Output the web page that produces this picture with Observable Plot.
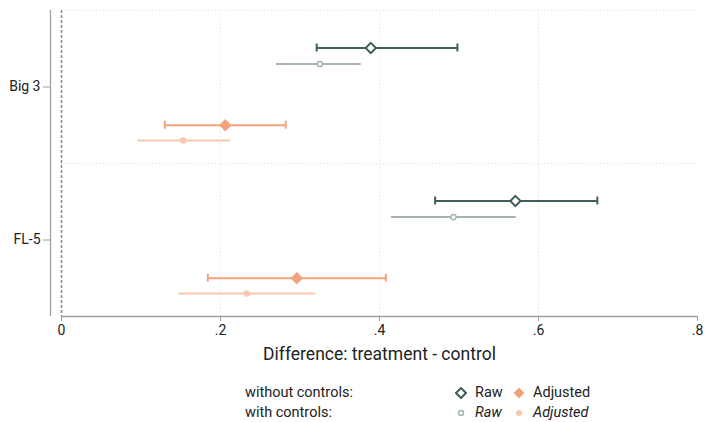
<!DOCTYPE html>
<html>
<head>
<meta charset="utf-8">
<script src="https://cdn.jsdelivr.net/npm/d3@7"></script>
<script src="https://cdn.jsdelivr.net/npm/@observablehq/plot@0.6"></script>
<style>
  html, body { margin: 0; padding: 0; background: #fff; }
  #wrap { position: relative; width: 706px; height: 422px; font-family: Roboto, "Open Sans", sans-serif; color: #222; }
  #legend { position: absolute; left: 245px; top: 383px; display: grid;
            grid-template-columns: 210px 20px 38px 20px auto; row-gap: 1px; font-size: 14.5px; line-height: 19px; }
  #legend svg { display: block; margin-top: 4px; }
  .it { font-style: italic; }
</style>
</head>
<body>
<div id="wrap">
  <div id="chart"></div>
  <div id="legend">
    <div>without controls:</div>
    <div><svg width="12" height="12"><path d="M6,1 L11,6 L6,11 L1,6 Z" fill="#fff" stroke="#3f5e5b" stroke-width="2"/></svg></div>
    <div>Raw</div>
    <div><svg width="12" height="12"><path d="M6,0.5 L11.5,6 L6,11.5 L0.5,6 Z" fill="#f4a27c"/></svg></div>
    <div>Adjusted</div>
    <div>with controls:</div>
    <div><svg width="12" height="12"><circle cx="6" cy="6" r="2.5" fill="#fff" stroke="#a7b5b2" stroke-width="1.5"/></svg></div>
    <div class="it">Raw</div>
    <div><svg width="12" height="12"><circle cx="6" cy="6" r="3" fill="#f9c8ad"/></svg></div>
    <div class="it">Adjusted</div>
  </div>
</div>
<script>
// ---- data ----
const categories = ["Big 3", "FL-5"];
const series = ["Raw", "Raw (controls)", "Adjusted", "Adjusted (controls)"];
const estRaw   = [0.389, 0.571];
const loRaw    = [0.321, 0.470];
const hiRaw    = [0.498, 0.674];
const estRawC  = [0.325, 0.493];
const loRawC   = [0.270, 0.415];
const hiRawC   = [0.377, 0.572];
const estAdj   = [0.206, 0.296];
const loAdj    = [0.130, 0.184];
const hiAdj    = [0.282, 0.408];
const estAdjC  = [0.153, 0.233];
const loAdjC   = [0.096, 0.148];
const hiAdjC   = [0.213, 0.320];
const xTicks = [0, 0.2, 0.4, 0.6, 0.8];
const xTickLabels = ["0", ".2", ".4", ".6", ".8"];

// ---- layout (not data) ----
const seriesOffset = {"Raw": -0.255, "Raw (controls)": -0.15, "Adjusted": 0.25, "Adjusted (controls)": 0.35};
const colors = ["#3f5e5b", "#a7b5b2", "#f4a27c", "#f9c8ad"];

const table = [
  [estRaw, loRaw, hiRaw], [estRawC, loRawC, hiRawC],
  [estAdj, loAdj, hiAdj], [estAdjC, loAdjC, hiAdjC]
];
const rows = [];
series.forEach((s, si) => {
  categories.forEach((c, ci) => {
    rows.push({series: s, category: c, y: ci + 1 + seriesOffset[s],
               est: table[si][0][ci], lo: table[si][1][ci], hi: table[si][2][ci]});
  });
});
const main = rows.filter(d => d.series === "Raw" || d.series === "Adjusted");
const cap = 0.026;
const caps = main.flatMap(d => [{...d, x: d.lo}, {...d, x: d.hi}]);

const chart = Plot.plot({
  width: 706,
  height: 370,
  marginTop: 10,
  marginBottom: 54,
  marginLeft: 61,
  marginRight: 9,
  style: {fontFamily: "Roboto, 'Open Sans', sans-serif", fontSize: "14px", color: "#222", background: "#fff"},
  x: {domain: [0, 0.8]},
  y: {domain: [0.5, 2.5], reverse: true},
  color: {domain: series, range: colors},
  marks: [
    Plot.ruleX([0.2, 0.4, 0.6], {y1: 0.5, y2: 2.5, stroke: "#dddddd", strokeDasharray: "1,2.5"}),
    Plot.ruleY([0.5, 1.5], {stroke: "#dddddd", strokeDasharray: "1,2.5"}),
    Plot.ruleX([0], {y1: 0.5, y2: 2.5, stroke: "#8a8a8a", strokeDasharray: "3,2", strokeWidth: 1.5}),
    Plot.ruleX([0], {y1: 0.5, y2: 2.5, dx: -11, stroke: "#a0a0a0", strokeWidth: 1.3}),
    Plot.ruleY([2.5], {x1: 0, x2: 0.8, stroke: "#a0a0a0", strokeWidth: 1.3}),
    Plot.axisY({ticks: [1, 2], tickFormat: i => categories[i - 1], tickSize: 7, tickPadding: 3, dx: -11,
                stroke: "#a0a0a0", fontSize: 14, label: null}),
    Plot.axisX({ticks: xTicks, tickFormat: (d) => xTickLabels[xTicks.indexOf(d)], tickSize: 5, tickPadding: 4,
                stroke: "#a0a0a0", fontSize: 14, label: "Difference: treatment - control",
                labelAnchor: "center", labelOffset: 43, labelArrow: "none"}),
    Plot.ruleY(rows, {y: "y", x1: "lo", x2: "hi", stroke: "series", strokeWidth: 2}),
    Plot.ruleX(caps, {x: "x", y1: d => d.y - cap, y2: d => d.y + cap, stroke: "series", strokeWidth: 2}),
    Plot.dot(rows.filter(d => d.series === "Raw (controls)"), {x: "est", y: "y", r: 2.6, fill: "white", stroke: "series", strokeWidth: 1.5}),
    Plot.dot(rows.filter(d => d.series === "Adjusted (controls)"), {x: "est", y: "y", r: 3.2, fill: "series"}),
    Plot.dot(rows.filter(d => d.series === "Raw"), {x: "est", y: "y", symbol: "diamond2", r: 4.6, fill: "white", stroke: "series", strokeWidth: 2}),
    Plot.dot(rows.filter(d => d.series === "Adjusted"), {x: "est", y: "y", symbol: "diamond2", r: 5.6, fill: "series"})
  ]
});
chart.querySelectorAll("g[aria-label='x-axis label']").forEach(e => e.setAttribute("font-size", "17.5"));
document.getElementById("chart").appendChild(chart);
</script>
</body>
</html>
